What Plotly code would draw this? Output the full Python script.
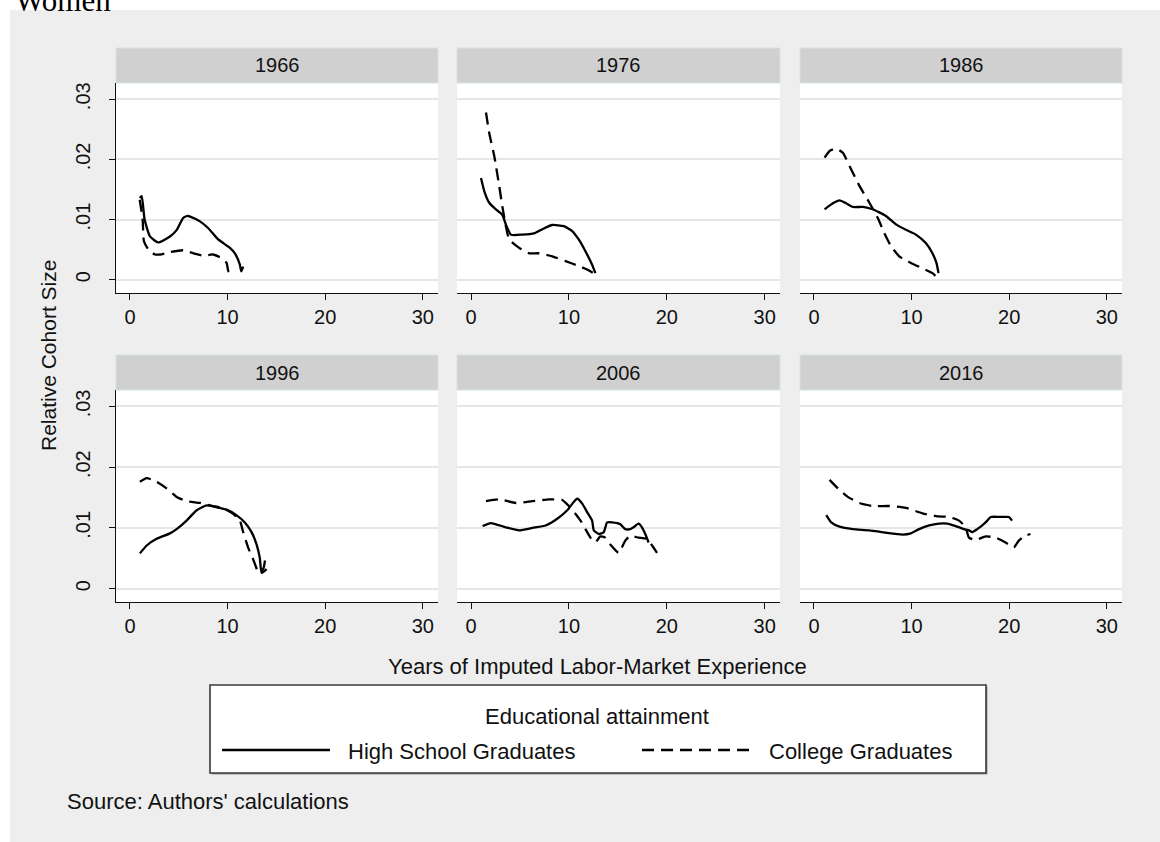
import plotly.graph_objects as go

# ---- figure size (px) ----
W, H = 1160, 842

# ---- panel titles (cohort year) ----
YEARS = ["1966", "1976", "1986", "1996", "2006", "2016"]

# ---- axis ticks ----
X_TICKS = [0, 10, 20, 30]
Y_TICKS = [0, 0.01, 0.02, 0.03]
Y_TICK_TEXT = ["0", ".01", ".02", ".03"]

# ---- relative cohort size by years of experience ----
HS_1966_X = [1.0, 1.2, 1.5, 2.05, 2.9, 4.1, 4.8, 5.46, 5.97, 7.17, 8.0, 9.04, 10.24, 10.75, 11.26, 11.4, 11.6]
HS_1966_Y = [0.0136, 0.0139, 0.0100, 0.0072, 0.0062, 0.0072, 0.0083, 0.0103, 0.0106, 0.0097, 0.0086, 0.0067, 0.0053, 0.0044, 0.0025, 0.0014, 0.0022]
CG_1966_X = [1.0, 1.3, 1.43, 1.9, 2.56, 3.1, 4.1, 5.46, 6.5, 7.5, 8.5, 9.4, 9.9, 10.07, 10.2]
CG_1966_Y = [0.0133, 0.0100, 0.0064, 0.0050, 0.0042, 0.0042, 0.0046, 0.0049, 0.0044, 0.0040, 0.0042, 0.0036, 0.0028, 0.0014, 0.0021]

HS_1976_X = [1.02, 1.36, 1.86, 2.54, 3.2, 3.56, 4.07, 5.25, 6.44, 7.29, 8.3, 9.49, 10.34, 11.0, 11.7, 12.37, 12.7]
HS_1976_Y = [0.0169, 0.0147, 0.0128, 0.0117, 0.0108, 0.0092, 0.0075, 0.0075, 0.0077, 0.0084, 0.0091, 0.0089, 0.0081, 0.0067, 0.0047, 0.0025, 0.0011]
CG_1976_X = [1.53, 1.86, 2.37, 2.88, 3.2, 3.56, 3.9, 4.92, 5.93, 6.95, 8.3, 9.66, 11.0, 11.86, 12.5]
CG_1976_Y = [0.0278, 0.0244, 0.0206, 0.0156, 0.0122, 0.0089, 0.0067, 0.0053, 0.0044, 0.0044, 0.0039, 0.0031, 0.0023, 0.0017, 0.0011]

HS_1986_X = [1.09, 1.94, 2.62, 3.3, 3.98, 5.0, 5.85, 6.7, 7.38, 8.4, 9.42, 10.44, 11.46, 12.14, 12.55, 12.76]
HS_1986_Y = [0.0117, 0.0127, 0.0132, 0.0127, 0.0121, 0.0121, 0.0118, 0.0112, 0.0106, 0.0092, 0.0083, 0.0075, 0.0061, 0.0044, 0.0028, 0.0011]
CG_1986_X = [1.09, 1.6, 2.28, 2.96, 3.64, 4.66, 5.68, 6.53, 7.2, 7.89, 8.74, 9.93, 11.12, 12.14, 12.65]
CG_1986_Y = [0.0203, 0.0214, 0.0218, 0.0211, 0.0189, 0.0156, 0.0128, 0.0103, 0.0078, 0.0056, 0.0039, 0.0028, 0.0019, 0.0011, 0.0003]

HS_1996_X = [1.02, 1.71, 2.73, 4.1, 4.78, 5.8, 6.83, 7.85, 8.87, 9.9, 10.9, 11.77, 12.46, 12.97, 13.3, 13.5, 14.0]
HS_1996_Y = [0.0058, 0.0071, 0.0082, 0.0091, 0.0098, 0.0112, 0.0129, 0.0137, 0.0134, 0.0130, 0.0121, 0.0109, 0.0093, 0.0073, 0.0051, 0.0026, 0.0032]
CG_1996_X = [1.02, 1.71, 2.73, 3.75, 4.78, 5.8, 7.17, 8.53, 9.56, 10.58, 11.26, 11.6, 12.1, 12.63, 13.2, 13.65, 13.9]
CG_1996_Y = [0.0176, 0.0182, 0.0176, 0.0165, 0.0151, 0.0144, 0.0141, 0.0136, 0.0132, 0.0123, 0.0112, 0.0093, 0.0068, 0.0048, 0.0026, 0.0032, 0.0054]

HS_2006_X = [1.19, 2.03, 3.56, 4.92, 6.27, 7.63, 8.81, 9.83, 10.51, 10.85, 11.36, 11.86, 12.37, 12.54, 13.05, 13.56, 13.9, 14.4, 15.25, 15.76, 16.27, 16.6, 17.12, 17.46, 17.8, 18.14]
HS_2006_Y = [0.0103, 0.0108, 0.0101, 0.0096, 0.0100, 0.0104, 0.0115, 0.0129, 0.0143, 0.0148, 0.0140, 0.0126, 0.0112, 0.0096, 0.0090, 0.0093, 0.0109, 0.0109, 0.0106, 0.0098, 0.0098, 0.0101, 0.0107, 0.0101, 0.0090, 0.0076]
CG_2006_X = [1.53, 2.88, 4.58, 6.27, 7.97, 9.32, 10.0, 10.68, 11.19, 11.69, 12.2, 12.71, 13.2, 13.7, 14.2, 15.08, 15.76, 16.27, 17.1, 17.97, 18.5, 19.0]
CG_2006_Y = [0.0144, 0.0147, 0.0141, 0.0144, 0.0147, 0.0146, 0.0136, 0.0123, 0.0112, 0.0098, 0.0084, 0.0076, 0.0086, 0.0084, 0.0073, 0.0059, 0.0079, 0.0087, 0.0084, 0.0082, 0.0071, 0.0059]

HS_2016_X = [1.26, 1.77, 2.62, 3.98, 5.68, 7.38, 9.08, 9.93, 10.78, 11.8, 12.82, 13.67, 14.52, 15.37, 15.88, 16.22, 16.73, 17.24, 17.76, 18.1, 19.1, 19.97, 20.3]
HS_2016_Y = [0.0121, 0.0109, 0.0102, 0.0098, 0.0096, 0.0092, 0.0089, 0.0091, 0.0098, 0.0104, 0.0107, 0.0107, 0.0103, 0.0098, 0.0096, 0.0093, 0.0098, 0.0104, 0.0112, 0.0118, 0.0118, 0.0118, 0.0112]
CG_2016_X = [1.6, 2.45, 3.47, 4.66, 6.02, 7.72, 9.42, 11.12, 12.65, 13.84, 14.86, 15.54, 15.88, 16.56, 17.59, 18.6, 19.63, 20.48, 20.99, 21.5, 22.18]
CG_2016_Y = [0.0179, 0.0165, 0.0151, 0.0141, 0.0136, 0.0136, 0.0133, 0.0124, 0.0119, 0.0118, 0.0112, 0.0101, 0.0084, 0.0080, 0.0086, 0.0084, 0.0076, 0.0068, 0.0079, 0.0086, 0.0090]

HS_X = [HS_1966_X, HS_1976_X, HS_1986_X, HS_1996_X, HS_2006_X, HS_2016_X]
HS_Y = [HS_1966_Y, HS_1976_Y, HS_1986_Y, HS_1996_Y, HS_2006_Y, HS_2016_Y]
CG_X = [CG_1966_X, CG_1976_X, CG_1986_X, CG_1996_X, CG_2006_X, CG_2016_X]
CG_Y = [CG_1966_Y, CG_1976_Y, CG_1986_Y, CG_1996_Y, CG_2006_Y, CG_2016_Y]

# ---- layout geometry (pixels) ----
COLS = [(116, 438), (457, 780), (800, 1122)]
ROWS = [(83, 293), (390, 602)]
STRIP_H = 35
X_RANGE = [-1.43, 31.56]
Y_RANGE = [-0.0022, 0.0327]

FONT = "Liberation Sans, Arial, Helvetica, sans-serif"
INK = "#111111"
DASH = "12px,7px"


def px(x):
    return x / W


def py(y):
    return 1 - y / H


fig = go.Figure()
layout = {}
shapes = []
annotations = []

for i in range(6):
    r, c = divmod(i, 3)
    x0, x1 = COLS[c]
    y0, y1 = ROWS[r]
    suffix = "" if i == 0 else str(i + 1)
    xa, ya = "x" + suffix, "y" + suffix

    fig.add_trace(go.Scatter(x=HS_X[i], y=HS_Y[i], mode="lines", xaxis=xa, yaxis=ya,
                             line=dict(color="black", width=2.3, shape="spline", smoothing=0.5),
                             name="High School Graduates", showlegend=False))
    fig.add_trace(go.Scatter(x=CG_X[i], y=CG_Y[i], mode="lines", xaxis=xa, yaxis=ya,
                             line=dict(color="black", width=2.3, dash=DASH, shape="spline", smoothing=0.5),
                             name="College Graduates", showlegend=False))

    layout["xaxis" + suffix] = dict(
        domain=[px(x0), px(x1)], anchor=ya, range=X_RANGE,
        tickvals=X_TICKS, ticks="outside", ticklen=6, tickwidth=1.3, tickcolor=INK,
        showline=True, linecolor=INK, linewidth=1.3, showgrid=False, zeroline=False,
        tickfont=dict(family=FONT, size=20, color=INK), fixedrange=True,
    )
    ydef = dict(
        domain=[py(y1), py(y0)], anchor=xa, range=Y_RANGE,
        tickvals=Y_TICKS, ticktext=Y_TICK_TEXT, showgrid=True, gridcolor="#e6e6e6", gridwidth=1.6,
        zeroline=False, fixedrange=True,
    )
    if c == 0:
        ydef.update(showline=True, linecolor=INK, linewidth=1.3, ticks="outside", ticklen=6,
                    tickwidth=1.3, tickcolor=INK, tickangle=-90, ticklabelstandoff=11,
                    tickfont=dict(family=FONT, size=20, color=INK))
    else:
        ydef.update(showline=False, ticks="", showticklabels=False)
    layout["yaxis" + suffix] = ydef

    # panel header strip
    shapes.append(dict(type="rect", xref="paper", yref="paper",
                       x0=px(x0), x1=px(x1), y0=py(y0), y1=py(y0 - STRIP_H),
                       fillcolor="#d0d0d0", line=dict(color="#d4e2e6", width=1), layer="below"))
    annotations.append(dict(text=YEARS[i], xref="paper", yref="paper",
                            x=px((x0 + x1) / 2), y=py(y0 - STRIP_H / 2),
                            xanchor="center", yanchor="middle", showarrow=False,
                            font=dict(family=FONT, size=20, color=INK)))

# white page border above and left of the graph region
shapes.append(dict(type="rect", xref="paper", yref="paper", x0=0, x1=1, y0=py(10), y1=1,
                   fillcolor="white", line=dict(width=0), layer="below"))
shapes.append(dict(type="rect", xref="paper", yref="paper", x0=0, x1=px(10), y0=0, y1=1,
                   fillcolor="white", line=dict(width=0), layer="below"))

# legend box
LEG = dict(x0=210, x1=986, y0=685, y1=773)
shapes.append(dict(type="rect", xref="paper", yref="paper",
                   x0=px(LEG["x0"] + 1.5), x1=px(LEG["x1"] + 1.5), y0=py(LEG["y1"] + 1.5), y1=py(LEG["y0"] + 1.5),
                   fillcolor="#9a9a9a", line=dict(width=0)))
shapes.append(dict(type="rect", xref="paper", yref="paper",
                   x0=px(LEG["x0"]), x1=px(LEG["x1"]), y0=py(LEG["y1"]), y1=py(LEG["y0"]),
                   fillcolor="white", line=dict(color="#3a3a3a", width=1.6)))
shapes.append(dict(type="line", xref="paper", yref="paper",
                   x0=px(222), x1=px(330), y0=py(750), y1=py(750),
                   line=dict(color="black", width=2.6)))
shapes.append(dict(type="line", xref="paper", yref="paper",
                   x0=px(642), x1=px(751), y0=py(750), y1=py(750),
                   line=dict(color="black", width=2.6, dash=DASH)))


def label(text, x, y, size=22, xanchor="center", angle=0, family=FONT):
    annotations.append(dict(text=text, xref="paper", yref="paper", x=px(x), y=py(y),
                            xanchor=xanchor, yanchor="middle", showarrow=False, textangle=angle,
                            font=dict(family=family, size=size, color=INK)))


label("Educational attainment", 597, 716)
label("High School Graduates", 346, 751, xanchor="left")
label("College Graduates", 767, 751, xanchor="left")
label("Years of Imputed Labor-Market Experience", 597, 666)
label("Relative Cohort Size", 48, 356, size=21, angle=-90)
label("Source: Authors' calculations", 65, 801, xanchor="left")

# page heading, partly above the top edge
annotations.append(dict(text="Women", xref="paper", yref="paper", x=px(13), y=py(20),
                        xanchor="left", yanchor="bottom", showarrow=False,
                        font=dict(family="Liberation Serif, Times New Roman, serif", size=31, color="black")))

fig.update_layout(
    width=W, height=H, margin=dict(l=0, r=0, t=0, b=0),
    paper_bgcolor="#eeeeee", plot_bgcolor="white",
    showlegend=False, shapes=shapes, annotations=annotations,
    **layout,
)

fig.write_html("out.html")
